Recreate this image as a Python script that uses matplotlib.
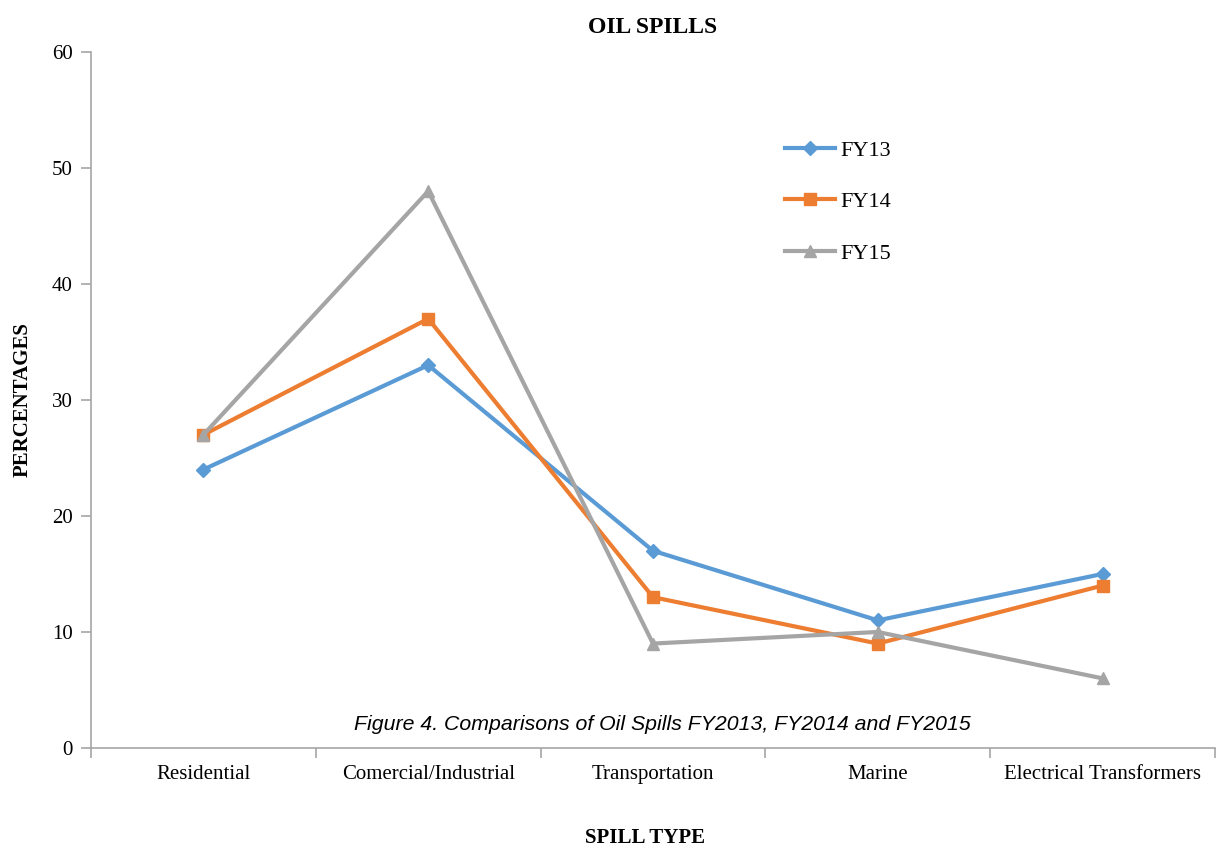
import matplotlib
matplotlib.use("Agg")
import matplotlib.pyplot as plt
import numpy as np

categories = ["Residential", "Comercial/Industrial", "Transportation", "Marine", "Electrical Transformers"]
fy13 = [24, 33, 17, 11, 15]
fy14 = [27, 37, 13, 9, 14]
fy15 = [27, 48, 9, 10, 6]
yticks = [0, 10, 20, 30, 40, 50, 60]

serif = "Liberation Serif"
fig = plt.figure(figsize=(12.25, 8.49), dpi=100)
ax = fig.add_axes([0.0743, 0.1190, 0.9175, 0.8198])

x = np.arange(len(categories))
ax.plot(x, fy13, color="#5B9BD5", lw=3, marker="D", ms=7, label="FY13")
ax.plot(x, fy14, color="#ED7D31", lw=3, marker="s", ms=9, label="FY14")
ax.plot(x, fy15, color="#A5A5A5", lw=3, marker="^", ms=9, label="FY15")

ax.set_xlim(-0.5, len(categories) - 0.5)
ax.set_ylim(0, 60)
ax.set_yticks(yticks)
ax.set_yticklabels([str(v) for v in yticks], fontsize=15, family=serif)
ax.set_xticks(x)
ax.set_xticklabels(categories, fontsize=15, family=serif)
ax.tick_params(axis="x", length=0, pad=12)
ax.set_xticks(np.arange(-0.5, len(categories), 1.0), minor=True)
ax.tick_params(axis="x", which="minor", length=7, color="#A6A6A6", width=1.2)
ax.tick_params(axis="y", length=7, color="#A6A6A6", width=1.2, pad=6)

for s in ["top", "right"]:
    ax.spines[s].set_visible(False)
for s in ["left", "bottom"]:
    ax.spines[s].set_color("#A6A6A6")
    ax.spines[s].set_linewidth(1.2)

ax.set_title("OIL SPILLS", fontsize=17, fontweight="bold", family=serif, pad=14)
ax.set_ylabel("PERCENTAGES", fontsize=15, fontweight="bold", family=serif, labelpad=14)
fig.text(645 / 1225, 1 - 838 / 849, "SPILL TYPE", ha="center", va="center",
         fontsize=15, fontweight="bold", family=serif)

leg = ax.legend(loc="upper left", bbox_to_anchor=(785 / 1225, 1 - 140 / 849),
                bbox_transform=fig.transFigure, frameon=False, borderpad=0,
                prop={"family": serif, "size": 16}, labelspacing=1.4,
                handlelength=2.25, handletextpad=0.25, borderaxespad=0)

ax.text(0.508, 0.034, "Figure 4. Comparisons of Oil Spills FY2013, FY2014 and FY2015",
        transform=ax.transAxes, ha="center", va="center", fontsize=15.3,
        style="italic", family="Liberation Sans")

fig.savefig("out.png", dpi=100)
